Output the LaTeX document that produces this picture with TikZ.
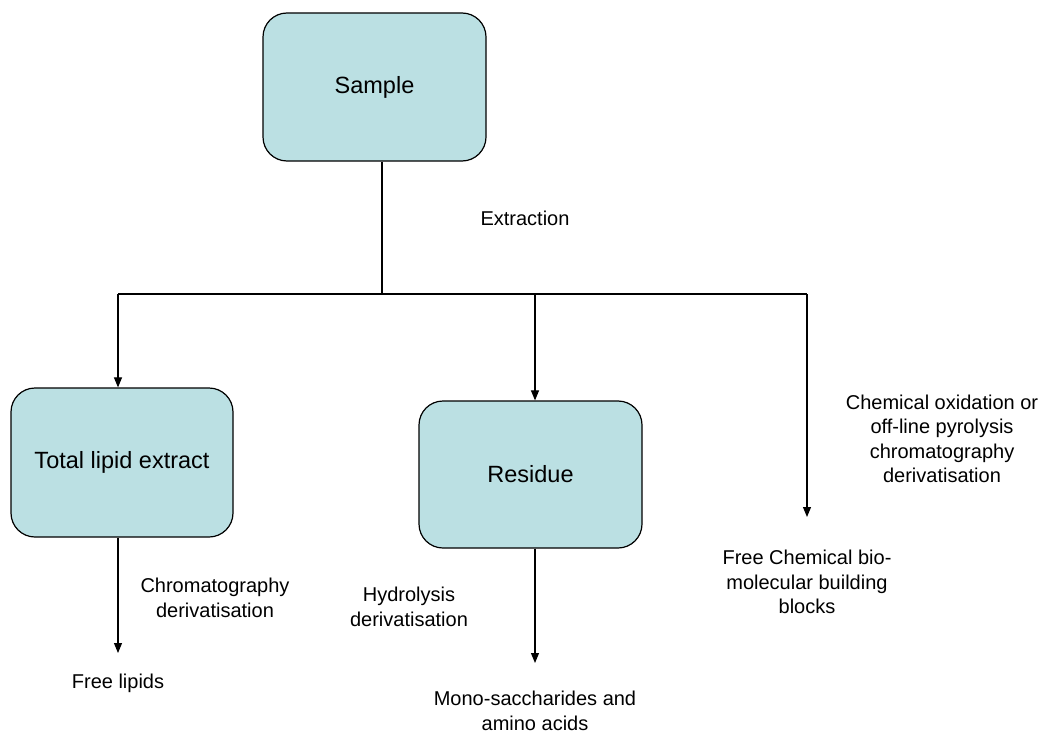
\documentclass[tikz,border=0pt]{standalone}
\usepackage{fontspec}
\setmainfont{Liberation Sans}
\usetikzlibrary{arrows.meta}
\definecolor{boxfill}{HTML}{BBE0E3}
\tikzset{
  box/.style={draw=black, fill=boxfill, line width=1.2pt, rounded corners=24pt,
    inner sep=0pt, font=\fontsize{23.5}{27}\selectfont},
  lbl/.style={align=center, inner sep=0pt, font=\fontsize{20}{24.5}\selectfont},
  conn/.style={line width=1.1pt, draw=black},
  arr/.style={conn, -{Triangle[width=8pt,length=10pt]}}
}
\begin{document}
\begin{tikzpicture}[x=1pt,y=-1pt]
\useasboundingbox (0,0) rectangle (1044,733);
% boxes
\node[box, minimum width=223pt, minimum height=148pt] (sample) at (374.5,87) {Sample};
\node[box, minimum width=222pt, minimum height=149pt] (tle) at (122,462.5) {Total lipid extract};
\node[box, minimum width=223pt, minimum height=147pt] (res) at (530.5,474.5) {Residue};
% labels
\node[lbl] (extr) at (525,218) {Extraction};
\node[lbl] (chrom) at (215,598) {Chromatography\\derivatisation};
\node[lbl] (freelip) at (118,683) {Free lipids};
\node[lbl] (hydro) at (409,607) {Hydrolysis\\derivatisation};
\node[lbl] (mono) at (535,711) {Mono-saccharides and\\amino acids};
\node[lbl] (chem) at (942,439) {Chemical oxidation or\\off-line pyrolysis\\chromatography\\derivatisation};
\node[lbl] (fcb) at (807,582) {Free Chemical bio-\\molecular building\\blocks};
% junction coordinates
\coordinate (j) at (382,294);
\coordinate (L) at (118,294);
\coordinate (M) at (535,294);
\coordinate (R) at (807,294);
\coordinate (Rend) at (807,517);
\coordinate (tleend) at (118,653);
\coordinate (resend) at (535,663);
% connectors
\draw[conn] (j |- sample.south) -- (j);
\draw[conn] (L) -- (R);
\draw[arr] (L) -- (L |- tle.north);
\draw[arr] (M) -- (M |- res.north);
\draw[arr] (R) -- (Rend);
\draw[arr] (tleend |- tle.south) -- (tleend);
\draw[arr] (resend |- res.south) -- (resend);
\end{tikzpicture}
\end{document}
